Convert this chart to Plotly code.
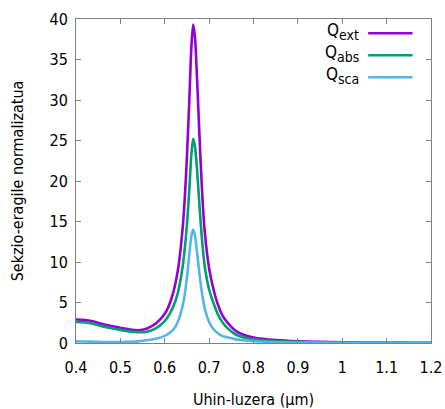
import plotly.graph_objects as go

wavelength = [0.40, 0.42, 0.44, 0.46, 0.48, 0.50, 0.52, 0.54, 0.56, 0.58,
              0.60, 0.61, 0.62, 0.63, 0.64, 0.645, 0.65, 0.655, 0.66, 0.664,
              0.668, 0.672, 0.676, 0.68, 0.685, 0.69, 0.70, 0.71, 0.72, 0.73,
              0.74, 0.76, 0.78, 0.80, 0.85, 0.90, 0.95, 1.00, 1.05, 1.10,
              1.15, 1.20]

q_ext = [2.9, 2.85, 2.65, 2.35, 2.1, 1.88, 1.68, 1.58, 1.8, 2.4,
         3.6, 4.7, 6.4, 9.1, 14.0, 17.8, 23.0, 29.5, 36.5, 39.3,
         37.8, 33.6, 28.5, 23.4, 17.9, 13.8, 9.2, 6.6, 4.7, 3.4,
         2.6, 1.5, 0.95, 0.68, 0.36, 0.21, 0.14, 0.10, 0.07, 0.05,
         0.04, 0.03]

q_abs = [2.6, 2.55, 2.35, 2.05, 1.82, 1.62, 1.44, 1.34, 1.4, 1.8,
         2.7, 3.5, 4.6, 6.3, 9.3, 11.6, 14.6, 18.6, 23.3, 25.2,
         24.3, 22.0, 18.8, 15.6, 12.1, 9.5, 6.6, 4.9, 3.5, 2.55,
         1.9, 1.05, 0.65, 0.45, 0.22, 0.13, 0.08, 0.05, 0.04, 0.03,
         0.02, 0.02]

q_sca = [0.2, 0.18, 0.15, 0.13, 0.12, 0.12, 0.14, 0.2, 0.33, 0.52,
         0.88, 1.2, 1.7, 2.7, 4.5, 6.0, 8.1, 10.8, 13.2, 14.0,
         13.3, 11.6, 9.6, 7.7, 5.8, 4.3, 2.6, 1.7, 1.2, 0.85,
         0.72, 0.45, 0.3, 0.22, 0.12, 0.07, 0.05, 0.03, 0.02, 0.02,
         0.01, 0.01]

series_names = ["Q<sub><span style='font-size:14px'>ext</span></sub>",
                "Q<sub><span style='font-size:14px'>abs</span></sub>",
                "Q<sub><span style='font-size:14px'>sca</span></sub>"]
colors = ["#9400D3", "#009E73", "#56B4E9"]
x_ticks = [0.4, 0.5, 0.6, 0.7, 0.8, 0.9, 1.0, 1.1, 1.2]
x_ticklabels = ["0.4", "0.5", "0.6", "0.7", "0.8", "0.9", "1", "1.1", "1.2"]
y_ticks = [0, 5, 10, 15, 20, 25, 30, 35, 40]

FONT = "DejaVu Sans Condensed, DejaVu Sans"
FS = 16

fig = go.Figure()
for name, vals, col in zip(series_names, [q_ext, q_abs, q_sca], colors):
    fig.add_trace(go.Scatter(x=wavelength, y=vals, mode="lines", name=name,
                             line=dict(color=col, width=2.6, shape="spline", smoothing=0.8),
                             showlegend=False))

# gnuplot-style key: text right-aligned, sample line on the right
key_y = [0.956, 0.888, 0.820]
for name, col, ky in zip(series_names, colors, key_y):
    fig.add_annotation(xref="paper", yref="paper", x=0.802, y=ky + 0.006, text=name,
                       showarrow=False, xanchor="right", yanchor="middle",
                       font=dict(family=FONT, size=17, color="black"))
    fig.add_shape(type="line", xref="paper", yref="paper",
                  x0=0.823, x1=0.948, y0=ky, y1=ky,
                  line=dict(color=col, width=2.6))

axis_common = dict(showline=True, linecolor="#808080", linewidth=1, mirror="ticks",
                   ticks="inside", ticklen=5, tickcolor="#808080", tickwidth=1,
                   showgrid=False, zeroline=False, automargin=False,
                   tickfont=dict(family=FONT, size=FS, color="black"))

fig.update_layout(
    width=445, height=409,
    margin=dict(l=76, r=14, t=19, b=66),
    paper_bgcolor="white", plot_bgcolor="white",
    xaxis=dict(range=[0.4, 1.2], tickvals=x_ticks, ticktext=x_ticklabels,
               ticklabelstandoff=10,
               title=dict(text="Uhin-luzera (μm)", font=dict(family=FONT, size=FS, color="black"), standoff=17),
               **axis_common),
    yaxis=dict(range=[0, 40], tickvals=y_ticks, ticklabelstandoff=4,
               title=dict(text="Sekzio-eragile normalizatua", font=dict(family=FONT, size=FS, color="black"), standoff=21),
               **axis_common),
)

fig.write_html("out.html")
